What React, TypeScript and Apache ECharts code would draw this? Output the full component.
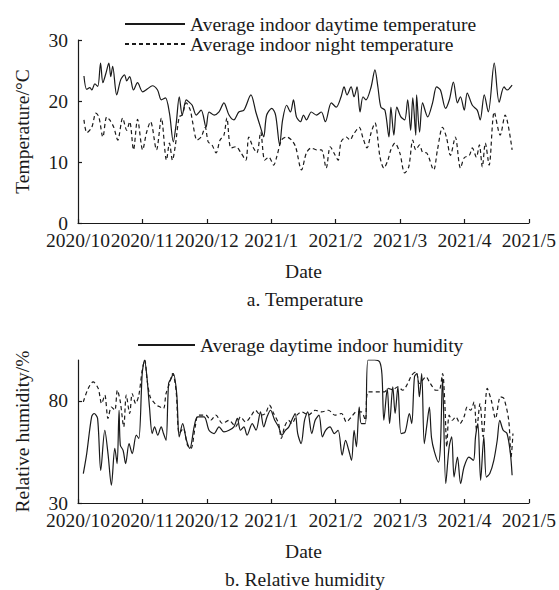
import React, { useEffect, useRef } from "react";
import * as echarts from "echarts";

// Tick labels (equally spaced on the x axis)
const MONTH_LABELS = ["2020/10", "2020/11", "2020/12", "2021/1", "2021/2", "2021/3", "2021/4", "2021/5"];
const TOTAL_DAYS = 212; // 2020/10/1 .. 2021/5/1

const TEMP_TICKS = [0, 10, 20, 30];
const RH_TICKS = [30, 80];

const LEGEND_DAY_T = "Average indoor daytime temperature";
const LEGEND_NIGHT_T = "Average indoor night temperature";
const LEGEND_DAY_RH = "Average daytime indoor humidity";
const LEGEND_NIGHT_RH = "Average night indoor humidity";

// [day since 2020/10/1, value]
const dayTemp: [number, number][] = [
  [2.8, 24.1], [4.1, 21.9], [5.6, 22.2], [6.5, 21.8], [7.9, 22.8], [9.3, 22.4], [10.6, 26.2], [11.7, 23], [13.1, 24.5],
  [14.5, 26.2], [15.4, 24], [16.3, 25.7], [18.2, 21], [20.1, 23.5], [21.9, 24.3], [22.9, 23.3], [24.3, 24], [26.1, 21.8],
  [28, 23], [30.4, 21.5], [32.7, 22], [35, 22.5], [37.4, 21.8], [39.2, 20.2], [41.1, 20.5], [43, 18], [44.8, 13.3],
  [46.2, 16.4], [47.6, 20.7], [49, 17.7], [50.9, 20.2], [52.3, 19.8], [53.7, 19.3], [55.6, 17.7], [57.9, 18.5],
  [60.2, 15.7], [61.6, 18.2], [64, 17.7], [66.3, 18.2], [68.6, 19.7], [71, 17.7], [73.3, 16.9], [75.6, 18.2], [78, 18.5],
  [81.3, 21], [83.6, 18.2], [85.9, 15.6], [87.3, 14.1], [88.7, 17.7], [91.1, 18.8], [92.9, 17.7], [94.8, 12.8],
  [96.2, 16.9], [98.1, 19.3], [99.9, 18.2], [101.3, 20.2], [102.7, 17.4], [104.6, 16.6], [106, 17.7], [107.4, 16.9],
  [109.7, 18.2], [112.1, 17.7], [114.4, 18.2], [116.3, 16.6], [119.1, 19.7], [121.4, 19], [123.7, 20.7], [125.1, 22.3],
  [126.5, 21], [128.4, 22.3], [129.8, 20.7], [131.2, 22.3], [132.6, 18.2], [134, 20.7], [135.4, 20.2], [137.8, 22.3],
  [139.6, 25.1], [141, 22.3], [142.4, 19], [144.3, 18.5], [146.2, 14.1], [147.1, 19], [148.5, 14.4], [149.9, 19],
  [151.8, 17.4], [153.6, 16.9], [155, 20.2], [156.4, 15.2], [157.4, 20.5], [158.8, 14.4], [159.2, 21], [160.6, 14.9],
  [162, 19.7], [164.4, 17.4], [166.7, 19.7], [168.6, 22.3], [170.4, 21.8], [172.8, 18.8], [174.6, 20.2], [176.5, 23.1],
  [178.4, 19.7], [179.8, 20.7], [181.6, 18.5], [183, 21.3], [185.4, 19.3], [187.7, 18.5], [189.1, 16.9], [191, 21],
  [192.9, 18.2], [195.7, 26.2], [198, 19.8], [200.3, 22.3], [201.7, 21.8], [204.1, 22.6],
];

const nightTemp: [number, number][] = [
  [2.8, 16.9], [4.2, 14.8], [6.5, 15.7], [8.4, 18], [9.8, 17.4], [11.7, 14.1], [13.5, 17.4], [14.9, 16.9], [16.8, 15.7],
  [18.7, 13.6], [21, 17.2], [22.9, 15.2], [24.3, 16.6], [26.1, 12], [28, 17], [30.4, 12], [32.2, 14.8], [34.1, 16.6],
  [36.9, 12], [39.2, 17.2], [41.6, 10.3], [43, 13.1], [44.4, 10.3], [45.8, 12.8], [47.6, 17.4], [49, 17.7], [50.9, 19.7],
  [52.8, 18.5], [53.7, 16.9], [56, 13.6], [57.9, 14.1], [59.8, 15.7], [61.2, 13.3], [63, 12.8], [64.9, 11.5], [66.8, 13.6],
  [68.6, 14.4], [70, 17.2], [71.9, 12.3], [74.2, 12.5], [76.6, 11.5], [78.9, 10.3], [80.3, 14.1], [82.2, 12.5],
  [84.1, 11.5], [85.9, 14.9], [87.8, 10.3], [89.7, 10.8], [92, 9.5], [93.4, 10.8], [95.7, 13.6], [98.1, 14.1],
  [100.4, 13.6], [102.3, 12.5], [105.1, 8.7], [107.4, 11.5], [109.7, 12.3], [112.1, 12], [114.4, 12], [116.7, 9],
  [118.6, 12.5], [120.9, 11.1], [122.3, 10.3], [123.7, 13.3], [126.1, 14.1], [127.9, 13.6], [129.3, 14.4], [132.2, 15.7],
  [134, 13.9], [135.9, 12.3], [137.8, 14.8], [139.6, 16.4], [142, 10.8], [143.8, 9], [145.7, 10.3], [147.1, 12],
  [149, 13.1], [151.3, 11.5], [153.6, 8.2], [155.5, 9.2], [157.4, 13.6], [158.8, 12], [160.6, 12.8], [162, 11.6],
  [163.9, 11.5], [167.2, 8.7], [169, 12], [171.4, 15.7], [173.2, 14.1], [175.1, 11.1], [177.4, 14.1], [179.8, 9],
  [181.6, 10.7], [184, 11.1], [185.4, 12.3], [187.3, 10.8], [188.7, 12.8], [190.1, 9.2], [191.5, 13.1], [193.3, 9.5],
  [195.7, 18.2], [198.5, 14.4], [200.8, 17.7], [204.1, 12],
];

const dayRH: [number, number][] = [
  [2.5, 44.4], [4.1, 54.2], [6.4, 72.2], [7.6, 73.8], [9.2, 71.4], [10.7, 46], [12.6, 65.6], [14.1, 54.2], [15.7, 38.7],
  [17.3, 56.7], [18.4, 49.3], [19.3, 75.4], [19.9, 58.3], [21.2, 55.8], [22.4, 49.3], [24, 59.1], [25.5, 54.2],
  [27.4, 63.2], [28.6, 61.6], [30.2, 93.4], [31.3, 100], [32.4, 91.8], [33.6, 77], [34.9, 64], [36, 67.3], [37.5, 63.2],
  [39.1, 67.3], [40.2, 64], [41.4, 60.7], [42.6, 88.5], [43.8, 91], [44.8, 93.4], [46.4, 83.6], [47.6, 62.4],
  [49.2, 68.9], [51, 60.7], [52.6, 56.7], [54.6, 67.3], [56.2, 72.2], [59.3, 72.2], [61.6, 65.6], [64, 64], [66.3, 67.3],
  [68.6, 64.8], [71, 65.6], [73.3, 67.3], [74.9, 71.4], [76.4, 65.6], [78, 67.3], [79.5, 63.2], [81.9, 68.9],
  [83.7, 65.6], [85.8, 74.6], [87.3, 67.3], [88.9, 72.2], [90.5, 75.4], [92.5, 70.5], [94.3, 67.3], [95.9, 63.2],
  [97.5, 65.6], [99, 67], [100.5, 70.5], [102.1, 73.8], [103.3, 64], [104.9, 59.1], [106.5, 70.5], [108, 74.6],
  [109.9, 64], [111.5, 70.5], [113.3, 73], [114.9, 62.4], [116.4, 65.6], [118.5, 67.3], [120.5, 64], [122.3, 65.6],
  [124.2, 53.4], [125.8, 60.7], [127.3, 55.8], [128.6, 50.9], [129.8, 65.6], [130.9, 57.5], [132.2, 77], [133.2, 68.9],
  [135.1, 68.9], [136.4, 100], [139.5, 100], [141.8, 99.1], [142.9, 93], [143.8, 70.5], [145.4, 86], [146.5, 68.9],
  [148, 86.9], [149.1, 73.8], [150.4, 86.9], [151.9, 64], [153.8, 64.8], [155.8, 73.8], [156.9, 68.9], [158.2, 91.8],
  [159.4, 93.4], [160.5, 82], [161.6, 93.4], [162.8, 59.1], [164, 68], [165.2, 77], [166.2, 62], [167.6, 55],
  [169.5, 50], [170.4, 58], [171.4, 91], [172.9, 39.5], [174.5, 57.5], [175.7, 62.4], [176.8, 42.7], [178.4, 52.5],
  [179.9, 39.5], [181.5, 47.6], [183.8, 52.5], [185.9, 50.9], [186.9, 62.4], [188, 68.9], [189.3, 41.1], [190.8, 62.4],
  [192, 42.7], [193.6, 44.4], [195.5, 50.9], [197.1, 60.7], [198.3, 70.5], [199.9, 65.6], [201.7, 64], [203.3, 54.2],
  [204.1, 43.6],
];

const nightRH: [number, number][] = [
  [2.5, 79.5], [4.8, 86.1], [7.1, 89.3], [9.5, 86.1], [11.1, 78.7], [12.6, 82.8], [14.1, 71.4], [15.7, 77], [17.3, 75.4],
  [18.5, 85.2], [19.9, 79.5], [21.5, 67.3], [22.7, 82.8], [24.3, 73.8], [25.5, 83.6], [27.1, 78.7], [28.6, 82.8],
  [30.2, 95], [31.4, 100], [32.5, 90.1], [33.9, 82], [35.5, 79.5], [37, 77.9], [38.6, 77], [40.2, 76.2], [41.4, 83.6],
  [43, 88.5], [44.5, 93.4], [46.1, 85.2], [47.6, 64], [49.5, 66.5], [51.5, 58.3], [53.1, 56.7], [55.1, 67.3],
  [56.6, 73], [60.1, 73], [62.4, 70.5], [64.8, 73], [67.9, 68.9], [71, 70.5], [74.1, 67.3], [76.4, 72.2], [78.8, 69.7],
  [81.1, 72.2], [83.4, 75.4], [85.8, 73], [88.1, 73.8], [90, 77.9], [92, 73.8], [94.3, 68.9], [95.6, 61.6], [97.1, 67.3],
  [99, 70.5], [100.5, 68.9], [102.9, 73], [105.2, 74.6], [108.3, 73], [111.5, 75.4], [114.5, 74.6], [117.7, 75.4],
  [120.8, 73], [123.9, 73.8], [126.2, 69.7], [128.6, 72.2], [130.9, 74.6], [133.2, 74.6], [135.1, 70.5], [136.4, 84.4],
  [144.1, 84.4], [145.7, 86.1], [148, 85.5], [150.4, 86.9], [152.7, 85.2], [155, 88.5], [156.9, 92.6], [158.9, 94.2],
  [160.5, 88.5], [162, 90.1], [163.6, 91.8], [165.2, 89.3], [166.7, 86.9], [168.2, 85.2], [169.8, 85.2], [171.4, 93.4],
  [172.4, 80.3], [173.4, 57.5], [174.5, 73], [176, 70.5], [177.6, 72.2], [179.6, 68.9], [181.5, 72.2], [183, 77],
  [184.6, 75.4], [186.2, 79.5], [187.4, 65.6], [189, 78.7], [190.5, 62.4], [192.4, 86.1], [194.3, 80.3], [196.3, 71.4],
  [198.6, 82], [200.2, 81.3], [202.5, 70.5], [203.6, 52.5], [204.5, 64],
];

const FONT = "Liberation Serif";
const FS = 19.5;
const INK = "#1a1a1a";
const DAYS_PER_TICK = TOTAL_DAYS / (MONTH_LABELS.length - 1);

const toXY = (arr: [number, number][]) => arr.map(([d, v]) => [d / DAYS_PER_TICK, v]);

export default function App() {
  const ref = useRef<HTMLDivElement>(null);

  useEffect(() => {
    if (!ref.current) return;
    const chart = echarts.init(ref.current, undefined, { renderer: "svg" });

    const textStyle = { fontFamily: FONT, fontSize: FS, color: INK };
    const axisLine = { show: true, lineStyle: { color: INK, width: 1.2 } };
    const axisTick = { show: true, inside: true, length: 4, lineStyle: { color: INK, width: 1.2 } };

    const xAxisBase = (gridIndex: number) => ({
      type: "value",
      gridIndex,
      min: 0,
      max: MONTH_LABELS.length - 1,
      interval: 1,
      name: "Date",
      nameLocation: "middle",
      nameGap: 38,
      nameTextStyle: textStyle,
      axisLine,
      axisTick,
      splitLine: { show: false },
      axisLabel: {
        ...textStyle,
        margin: 7,
        formatter: (v: number) => MONTH_LABELS[Math.round(v)] ?? "",
      },
    });

    const lineSeries = (name: string, data: [number, number][], idx: number, dashed: boolean) => ({
      type: "line",
      name,
      xAxisIndex: idx,
      yAxisIndex: idx,
      data: toXY(data),
      symbol: "none",
      showSymbol: false,
      smooth: 0.3,
      lineStyle: { color: INK, width: 1.2, type: dashed ? [4, 3] : "solid" },
      itemStyle: { color: INK },
      emphasis: { disabled: true },
    });

    const legendBase = {
      orient: "vertical",
      itemHeight: 20,
      itemGap: 0,
      padding: 0,
      itemStyle: { opacity: 0, color: "transparent", borderWidth: 0 },
      textStyle: { ...textStyle, lineHeight: 20 },
      selectedMode: false,
    };

    const option: any = {
      animation: false,
      backgroundColor: "#fff",
      textStyle: { fontFamily: FONT },
      grid: [
        { left: 78, top: 40, width: 454, height: 183 },
        { left: 78, top: 360, width: 454, height: 143 },
      ],
      legend: [
        { ...legendBase, data: [LEGEND_DAY_T, LEGEND_NIGHT_T], left: 124, top: 14, itemWidth: 60 },
        { ...legendBase, data: [LEGEND_DAY_RH], left: 137, top: 335, itemWidth: 57 },
      ],
      xAxis: [xAxisBase(0), xAxisBase(1)],
      yAxis: [
        {
          type: "value",
          gridIndex: 0,
          min: TEMP_TICKS[0],
          max: TEMP_TICKS[TEMP_TICKS.length - 1],
          interval: TEMP_TICKS[1] - TEMP_TICKS[0],
          name: "Temperature/°C",
          nameLocation: "middle",
          nameGap: 46,
          nameTextStyle: textStyle,
          axisLine,
          axisTick,
          splitLine: { show: false },
          axisLabel: { ...textStyle, margin: 10 },
        },
        {
          type: "value",
          gridIndex: 1,
          min: 30,
          max: 100,
          name: "Relative humidity/%",
          nameLocation: "middle",
          nameGap: 46,
          nameTextStyle: textStyle,
          axisLine,
          axisTick: { ...axisTick, customValues: RH_TICKS },
          splitLine: { show: false },
          axisLabel: { ...textStyle, margin: 10, customValues: RH_TICKS },
        },
      ],
      series: [
        lineSeries(LEGEND_DAY_T, dayTemp, 0, false),
        lineSeries(LEGEND_NIGHT_T, nightTemp, 0, true),
        lineSeries(LEGEND_DAY_RH, dayRH, 1, false),
        lineSeries(LEGEND_NIGHT_RH, nightRH, 1, true),
      ],
      graphic: [
        {
          type: "text",
          x: 305,
          y: 299,
          style: { text: "a. Temperature", fontFamily: FONT, fontSize: FS, fill: INK, align: "center", verticalAlign: "middle" },
        },
        {
          type: "text",
          x: 305,
          y: 579,
          style: { text: "b. Relative humidity", fontFamily: FONT, fontSize: FS, fill: INK, align: "center", verticalAlign: "middle" },
        },
      ],
    };

    chart.setOption(option);
    return () => chart.dispose();
  }, []);

  return (
    <div
      ref={ref}
      style={{ position: "fixed", left: 0, top: 0, width: 559, height: 590, background: "#fff" }}
    />
  );
}
